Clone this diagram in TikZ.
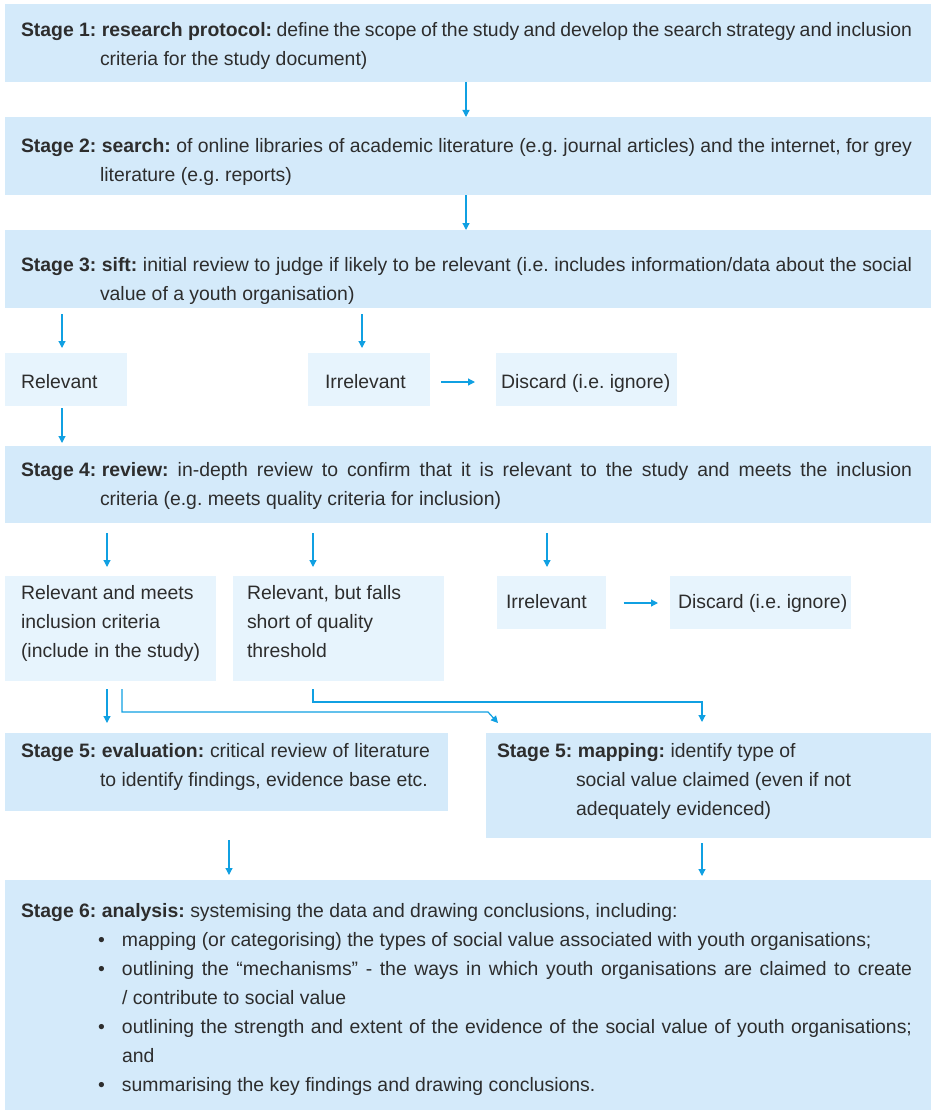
\documentclass[tikz,border=0pt]{standalone}
\usepackage{fontspec}
\setmainfont{Liberation Sans}
\usetikzlibrary{arrows.meta}
\definecolor{boxdark}{RGB}{212,234,250}
\definecolor{boxlight}{RGB}{231,244,253}
\definecolor{arrc}{RGB}{16,160,226}
\definecolor{txtc}{RGB}{45,45,45}
\newcommand\jln[2]{\makebox[#1][s]{#2}}
\newcommand\bh[1]{\mbox{\textbf{#1}}}
\newcommand\txtlines[1]{\vtop{\baselineskip=29pt\lineskiplimit=-100pt #1}}
\newcommand\bul{\hspace*{77pt}\makebox[24pt][l]{•}}
\newcommand\bulcont{\hspace*{101pt}}
\frenchspacing
\begin{document}
\frenchspacing
\begin{tikzpicture}[x=1pt,y=-1pt,
  dbox/.style={fill=boxdark,draw=none,inner sep=0pt,outer sep=0pt,anchor=north west},
  lbox/.style={fill=boxlight,draw=none,inner sep=0pt,outer sep=0pt,anchor=north west},
  txt/.style={inner sep=0pt,outer sep=0pt,anchor=base west,text=txtc,font=\fontsize{19.4pt}{29pt}\selectfont\frenchspacing},
  arr/.style={draw=arrc,line width=1.2pt,-{Triangle[length=7pt,width=7pt]}}]
\useasboundingbox (0,0) rectangle (931,1110);

% boxes
\node[dbox,minimum width=926pt,minimum height=78pt] (s1) at (5,4) {};
\node[dbox,minimum width=926pt,minimum height=78pt] (s2) at (5,117) {};
\node[dbox,minimum width=926pt,minimum height=78pt] (s3) at (5,230) {};
\node[lbox,minimum width=122pt,minimum height=53pt] (rel) at (5,353) {};
\node[lbox,minimum width=122pt,minimum height=53pt] (irr1) at (308,353) {};
\node[lbox,minimum width=181pt,minimum height=53pt] (dis1) at (496,353) {};
\node[dbox,minimum width=926pt,minimum height=77pt] (s4) at (5,446) {};
\node[lbox,minimum width=211pt,minimum height=105pt] (relm) at (5,576) {};
\node[lbox,minimum width=211pt,minimum height=105pt] (relb) at (233,576) {};
\node[lbox,minimum width=109pt,minimum height=53pt] (irr2) at (497,576) {};
\node[lbox,minimum width=181pt,minimum height=53pt] (dis2) at (670,576) {};
\node[dbox,minimum width=443pt,minimum height=78pt] (s5e) at (5,733) {};
\node[dbox,minimum width=445pt,minimum height=105pt] (s5m) at (486,733) {};
\node[dbox,minimum width=926pt,minimum height=230pt] (s6) at (5,880) {};

% texts
\node[txt] (s1t) at (21,37) {\txtlines{%
  \hbox{\jln{891pt}{\bh{Stage 1: research protocol:} define the scope of the study and develop the search strategy and inclusion}}%
  \hbox{\hspace*{79pt}criteria for the study document)}}};
\node[txt] (s2t) at (21,153) {\txtlines{%
  \hbox{\jln{891pt}{\bh{Stage 2: search:} of online libraries of academic literature (e.g. journal articles) and the internet, for grey}}%
  \hbox{\hspace*{79pt}literature (e.g. reports)}}};
\node[txt] (s3t) at (21,271) {\txtlines{%
  \hbox{\jln{891pt}{\bh{Stage 3: sift:} initial review to judge if likely to be relevant (i.e. includes information/data about the social}}%
  \hbox{\hspace*{79pt}value of a youth organisation)}}};
\node[txt] (relt) at (21,388) {Relevant};
\node[txt] (irr1t) at (325,388) {Irrelevant};
\node[txt] (dis1t) at (501,388) {Discard (i.e. ignore)};
\node[txt] (s4t) at (21,476) {\txtlines{%
  \hbox{\jln{891pt}{\bh{Stage 4: review:} in-depth review to confirm that it is relevant to the study and meets the inclusion}}%
  \hbox{\hspace*{79pt}criteria (e.g. meets quality criteria for inclusion)}}};
\node[txt] (relmt) at (21,599) {\txtlines{%
  \hbox{Relevant and meets}\hbox{inclusion criteria}\hbox{(include in the study)}}};
\node[txt] (relbt) at (247,599) {\txtlines{%
  \hbox{Relevant, but falls}\hbox{short of quality}\hbox{threshold}}};
\node[txt] (irr2t) at (506,608) {Irrelevant};
\node[txt] (dis2t) at (678,608) {Discard (i.e. ignore)};
\node[txt] (s5et) at (21,757) {\txtlines{%
  \hbox{\jln{409pt}{\bh{Stage 5: evaluation:} critical review of literature}}%
  \hbox{\hspace*{79pt}to identify findings, evidence base etc.}}};
\node[txt] (s5mt) at (497,757) {\txtlines{%
  \hbox{\bh{Stage 5: mapping:} identify type of}%
  \hbox{\hspace*{79pt}social value claimed (even if not}%
  \hbox{\hspace*{79pt}adequately evidenced)}}};
\node[txt] (s6t) at (21,917) {\txtlines{%
  \hbox{\bh{Stage 6: analysis:} systemising the data and drawing conclusions, including:}%
  \hbox{\bul mapping (or categorising) the types of social value associated with youth organisations;}%
  \hbox{\bul\jln{790pt}{outlining the “mechanisms” - the ways in which youth organisations are claimed to create}}%
  \hbox{\bulcont / contribute to social value}%
  \hbox{\bul\jln{790pt}{outlining the strength and extent of the evidence of the social value of youth organisations;}}%
  \hbox{\bulcont and}%
  \hbox{\bul summarising the key findings and drawing conclusions.}}};

% connectors
\draw[arr] ([xshift=461pt]s1.south west) -- ([xshift=461pt]s2.north west);
\draw[arr] ([xshift=461pt]s2.south west) -- ([xshift=461pt]s3.north west);
\draw[arr] ([xshift=57pt,yshift=-6pt]s3.south west) -- ([xshift=57pt,yshift=5pt]rel.north west);
\draw[arr] ([xshift=54pt,yshift=-6pt]s3.south west -| irr1.north west) -- ([xshift=54pt,yshift=5pt]irr1.north west);
\draw[arr] ([xshift=11pt,yshift=-2.5pt]irr1.east) -- ([xshift=-21pt,yshift=-2.5pt]dis1.west);
\draw[arr] ([xshift=57pt,yshift=-2pt]rel.south west) -- ([xshift=57pt,yshift=3pt]s4.north west);
\draw[arr] ([xshift=102pt,yshift=-10pt]s4.south west) -- ([xshift=102pt,yshift=9pt]relm.north west);
\draw[arr] ([xshift=80pt,yshift=-10pt]s4.south west -| relb.north west) -- ([xshift=80pt,yshift=9pt]relb.north west);
\draw[arr] ([xshift=50pt,yshift=-10pt]s4.south west -| irr2.north west) -- ([xshift=50pt,yshift=9pt]irr2.north west);
\draw[arr] ([xshift=17.5pt,yshift=-0.5pt]irr2.east) -- ([xshift=-12pt,yshift=-0.5pt]dis2.west);
\draw[arr] ([xshift=102pt,yshift=-8pt]relm.south west) -- ([xshift=102pt,yshift=10pt]s5e.north west);
\draw[arr] ([xshift=117pt,yshift=-8pt]relm.south west) |- ([xshift=2pt,yshift=21pt]s5m.north west) -- ([xshift=12pt,yshift=10pt]s5m.north west);
\draw[arr] ([xshift=80pt,yshift=-8pt]relb.south west) |- ([xshift=216pt,yshift=31pt]s5m.north west) -- ([xshift=216pt,yshift=11pt]s5m.north west);
\draw[arr] ([xshift=224pt,yshift=-29pt]s5e.south west) -- ([xshift=224pt,yshift=5pt]s6.north west);
\draw[arr] ([xshift=216pt,yshift=-5pt]s5m.south west) -- ([xshift=216pt,yshift=4pt]s5m.south west |- s6.north);
\end{tikzpicture}
\end{document}
